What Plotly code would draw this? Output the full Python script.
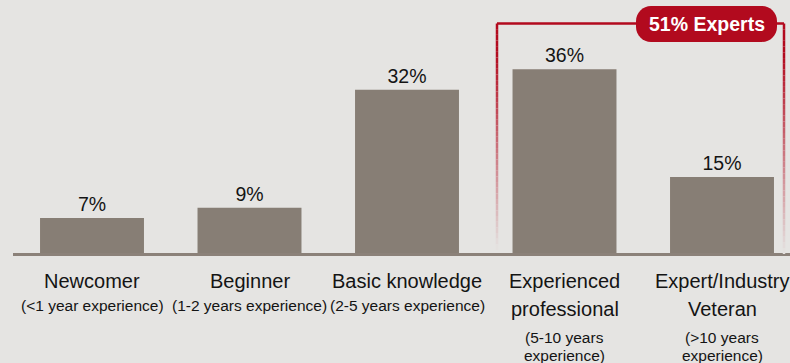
import plotly.graph_objects as go

# Share of respondents by experience level
levels = ["Newcomer", "Beginner", "Basic knowledge",
          "Experienced<br>professional", "Expert/Industry<br>Veteran"]
details = ["(<1 year experience)", "(1-2 years experience)", "(2-5 years experience)",
           "(5-10 years<br>experience)", "(>10 years<br>experience)"]
shares = [7, 9, 32, 36, 15]
expert_label = "51% Experts"

W, H = 790, 363
BG = "#e5e4e2"
BAR = "#877e75"
RED = (178, 10, 30)
FONT = "Liberation Sans, Arial, sans-serif"
TXT = "#141414"

MAIN_SIZE = 20
SUB_SIZE = 15.5
VAL_SIZE = 19.5

# pixel geometry of the plotting frame
x0_px, step_px = 92.0, 157.5
base_px, k_px = 254.0, 5.13

xs = list(range(len(shares)))
x_range = [-x0_px / step_px, (W - x0_px) / step_px]
y_range = [-(H - base_px) / k_px, base_px / k_px]


def px(x):
    return x / W


def py(y):
    return 1 - y / H


fig = go.Figure(go.Bar(
    x=xs, y=shares, width=0.66,
    marker=dict(color=BAR, line=dict(width=0)),
    texttemplate="%{y}%", textposition="outside", cliponaxis=False,
    constraintext="none",
    textfont=dict(family=FONT, size=VAL_SIZE, color=TXT),
    hoverinfo="skip",
))

shapes = []
annotations = []

# baseline
shapes.append(dict(type="line", xref="paper", yref="paper",
                   x0=px(13), x1=px(W), y0=py(254.5), y1=py(254.5),
                   line=dict(color="#8b8179", width=3), layer="above"))


def blend(t):
    bg = (229, 228, 226)
    c = [round(RED[i] * t + bg[i] * (1 - t)) for i in range(3)]
    return "rgb(%d,%d,%d)" % tuple(c)


# bracket around the two expert groups, fading towards the bottom
top_y = 23.5
for xv, y_end in ((497, 250), (784, 254)):
    n = 40
    for i in range(n):
        ya = top_y + (y_end - top_y) * i / n
        yb = top_y + (y_end - top_y) * (i + 1) / n
        t = 1 - (i + 0.5) / n
        t = min(1.0, t * 1.15)
        shapes.append(dict(type="line", xref="paper", yref="paper",
                           x0=px(xv), x1=px(xv), y0=py(ya), y1=py(yb),
                           line=dict(color=blend(t), width=2.5)))
shapes.append(dict(type="line", xref="paper", yref="paper",
                   x0=px(497), x1=px(784), y0=py(top_y), y1=py(top_y),
                   line=dict(color=blend(1), width=2.5)))

# pill badge
L, R, T, B, r = 636, 777, 6, 42, 15
c = 0.45 * r
pts = [
    ("M", [(L + r, T)]),
    ("L", [(R - r, T)]),
    ("C", [(R - r + (r - c), T), (R, T + c), (R, T + r)]),
    ("L", [(R, B - r)]),
    ("C", [(R, B - r + (r - c)), (R - c, B), (R - r, B)]),
    ("L", [(L + r, B)]),
    ("C", [(L + c, B), (L, B - c), (L, B - r)]),
    ("L", [(L, T + r)]),
    ("C", [(L, T + c), (L + c, T), (L + r, T)]),
]
path = ""
for cmd, plist in pts:
    path += cmd + " ".join("%.5f,%.5f" % (px(a), py(b)) for a, b in plist)
path += " Z"
shapes.append(dict(type="path", xref="paper", yref="paper", path=path,
                   fillcolor=blend(1), line=dict(width=0), layer="above"))

annotations.append(dict(xref="paper", yref="paper", x=px((L + R) / 2), y=py((T + B) / 2 + 0.5),
                        text="<b>%s</b>" % expert_label, showarrow=False,
                        xanchor="center", yanchor="middle",
                        font=dict(family=FONT, size=19.5, color="white")))


def line_annot(xc, baseline, text, size):
    top = baseline - 0.905 * size - 1
    annotations.append(dict(xref="x", yref="paper", x=xc, y=py(top), text=text,
                            showarrow=False, xanchor="center", yanchor="top",
                            borderpad=1,
                            font=dict(family=FONT, size=size, color=TXT)))


# category labels under the bars
for i, (lv, dt) in enumerate(zip(levels, details)):
    b = 287
    main_lines = lv.split("<br>")
    for j, ln in enumerate(main_lines):
        line_annot(xs[i], b + 28 * j, ln, MAIN_SIZE)
    b = b + 28 * (len(main_lines) - 1) + (23 if len(main_lines) == 1 else 27)
    for j, ln in enumerate(dt.split("<br>")):
        line_annot(xs[i], b + 18.5 * j, ln, SUB_SIZE)

fig.update_layout(
    width=W, height=H,
    margin=dict(l=0, r=0, t=0, b=0),
    paper_bgcolor=BG, plot_bgcolor=BG,
    showlegend=False,
    xaxis=dict(range=x_range, visible=False, fixedrange=True),
    yaxis=dict(range=y_range, visible=False, fixedrange=True),
    shapes=shapes,
    annotations=annotations,
    font=dict(family=FONT),
)

fig.write_html("out.html")
